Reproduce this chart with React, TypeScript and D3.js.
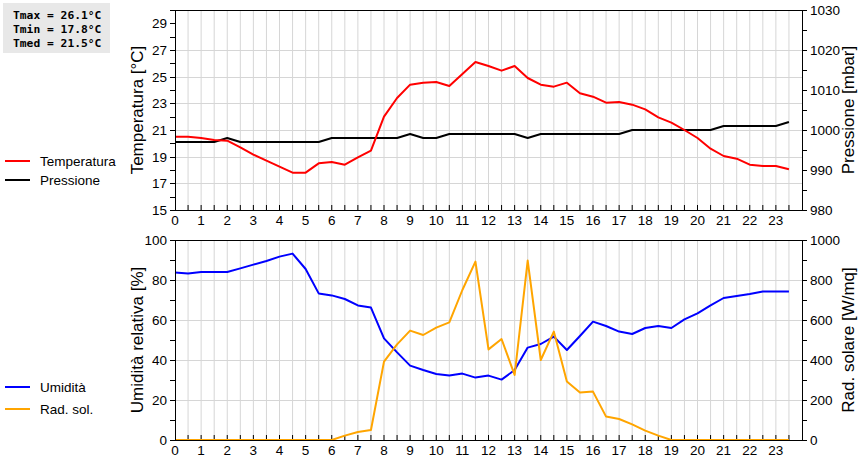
import { useEffect, useRef } from "react";
import * as d3 from "d3";

// half-hour samples, 0 .. 23.5
const hours = d3.range(0, 24, 0.5);

const temperatura = [
  20.5, 20.5, 20.4, 20.25, 20.2, 19.7, 19.15, 18.7, 18.25, 17.8, 17.8, 18.5,
  18.6, 18.4, 18.95, 19.45, 22.0, 23.4, 24.4, 24.55, 24.6, 24.3, 25.2, 26.1,
  25.8, 25.45, 25.8, 24.9, 24.4, 24.25, 24.55, 23.75, 23.5, 23.05, 23.1, 22.9,
  22.55, 21.95, 21.55, 21.0, 20.4, 19.6, 19.05, 18.85, 18.4, 18.3, 18.3, 18.05,
];

const pressione = [
  997, 997, 997, 997, 998, 997, 997, 997, 997, 997, 997, 997,
  998, 998, 998, 998, 998, 998, 999, 998, 998, 999, 999, 999,
  999, 999, 999, 998, 999, 999, 999, 999, 999, 999, 999, 1000,
  1000, 1000, 1000, 1000, 1000, 1000, 1001, 1001, 1001, 1001, 1001, 1002,
];

const umidita = [
  83.8, 83.2, 84, 84, 84, 85.8, 87.7, 89.5, 91.7, 93.2, 85.5, 73.3,
  72.3, 70.5, 67.3, 66.2, 50.8, 43.8, 37.2, 35, 33, 32.2, 33.2, 31.2,
  32.2, 30.2, 35, 46.2, 48, 51.7, 45, 52, 59.2, 57, 54.2, 53,
  56, 57, 56, 60.3, 63.3, 67.3, 71, 72, 73, 74.2, 74.2, 74.2,
];

const radSolare = [
  0, 0, 0, 0, 0, 0, 0, 0, 0, 0, 0, 0,
  0, 22, 40, 50, 392, 478, 547, 525, 562, 588, 750, 892,
  453, 505, 325, 897, 400, 542, 292, 237, 242, 117, 105, 78,
  47, 22, 0, 0, 0, 0, 0, 0, 0, 0, 0, 0,
];

const statsLines = ["Tmax = 26.1°C", "Tmin = 17.8°C", "Tmed = 21.5°C"];
const hourLabels = d3.range(0, 24);

const FONT = "'Liberation Sans', Arial, sans-serif";

export default function App() {
  const svgRef = useRef<SVGSVGElement | null>(null);

  useEffect(() => {
    document.body.style.margin = "0";
    if (!svgRef.current) return;
    const svg = d3.select(svgRef.current);
    svg.selectAll("*").remove();

    const width = 860;
    const height = 460;
    svg.attr("width", width).attr("height", height);
    svg.append("rect").attr("width", width).attr("height", height).attr("fill", "white");

    const x = d3.scaleLinear().domain([0, 24]).range([175, 802]);

    const drawPanel = (opts: {
      top: number;
      bottom: number;
      left: d3.ScaleLinear<number, number>;
      right: d3.ScaleLinear<number, number>;
      leftTicks: number[];
      leftMinor: number[];
      leftGrid: number[];
      rightTicks: number[];
      rightMinor: number[];
      leftTitle: string;
      rightTitle: string;
      series: { values: number[]; scale: d3.ScaleLinear<number, number>; color: string }[];
      legend: { label: string; color: string; y: number }[];
    }) => {
      const g = svg.append("g");
      const [x0, x1] = x.range();

      // grid
      g.selectAll("line.vg")
        .data(d3.range(0.5, 24, 0.5))
        .enter()
        .append("line")
        .attr("x1", (d) => x(d))
        .attr("x2", (d) => x(d))
        .attr("y1", opts.top)
        .attr("y2", opts.bottom)
        .attr("stroke", "#d6d6d6")
        .attr("stroke-width", 1);
      g.selectAll("line.hg")
        .data(opts.leftGrid)
        .enter()
        .append("line")
        .attr("x1", x0)
        .attr("x2", x1)
        .attr("y1", (d) => Math.round(opts.left(d)) + 0.5)
        .attr("y2", (d) => Math.round(opts.left(d)) + 0.5)
        .attr("stroke", "#d6d6d6")
        .attr("stroke-width", 1);

      // x ticks (inside, every half hour)
      g.selectAll("line.xt")
        .data(d3.range(0.5, 24, 0.5))
        .enter()
        .append("line")
        .attr("x1", (d) => x(d))
        .attr("x2", (d) => x(d))
        .attr("y1", opts.bottom)
        .attr("y2", opts.bottom - 5)
        .attr("stroke", "black");

      g.selectAll("text.xl")
        .data(hourLabels)
        .enter()
        .append("text")
        .attr("x", (d) => x(d))
        .attr("y", opts.bottom + 15)
        .attr("text-anchor", "middle")
        .style("font-family", FONT)
        .style("font-size", "13.5px")
        .text((d) => d);

      // left ticks
      const allLeft = [...opts.leftTicks, ...opts.leftMinor];
      g.selectAll("line.lt")
        .data(allLeft)
        .enter()
        .append("line")
        .attr("x1", x0 - 5)
        .attr("x2", x0)
        .attr("y1", (d) => Math.round(opts.left(d)) + 0.5)
        .attr("y2", (d) => Math.round(opts.left(d)) + 0.5)
        .attr("stroke", "black");
      g.selectAll("text.ll")
        .data(opts.leftTicks)
        .enter()
        .append("text")
        .attr("x", x0 - 8)
        .attr("y", (d) => opts.left(d) + 5)
        .attr("text-anchor", "end")
        .style("font-family", FONT)
        .style("font-size", "13.5px")
        .text((d) => d);

      const allRight = [...opts.rightTicks, ...opts.rightMinor];
      g.selectAll("line.rt")
        .data(allRight)
        .enter()
        .append("line")
        .attr("x1", x1)
        .attr("x2", x1 + 5)
        .attr("y1", (d) => Math.round(opts.right(d)) + 0.5)
        .attr("y2", (d) => Math.round(opts.right(d)) + 0.5)
        .attr("stroke", "black");
      g.selectAll("text.rl")
        .data(opts.rightTicks)
        .enter()
        .append("text")
        .attr("x", x1 + 8)
        .attr("y", (d) => opts.right(d) + 5)
        .attr("text-anchor", "start")
        .style("font-family", FONT)
        .style("font-size", "13.5px")
        .text((d) => d);

      const midY = (opts.top + opts.bottom) / 2;
      g.append("text")
        .attr("transform", `translate(143, ${midY}) rotate(-90)`)
        .attr("text-anchor", "middle")
        .style("font-family", FONT)
        .style("font-size", "17px")
        .text(opts.leftTitle);
      g.append("text")
        .attr("transform", `translate(854, ${midY}) rotate(-90)`)
        .attr("text-anchor", "middle")
        .style("font-family", FONT)
        .style("font-size", "17px")
        .text(opts.rightTitle);

      // series
      opts.series.forEach((s) => {
        const line = d3
          .line<number>()
          .x((_, i) => x(hours[i]))
          .y((d) => s.scale(d));
        g.append("path")
          .datum(s.values)
          .attr("d", line)
          .attr("fill", "none")
          .attr("stroke", s.color)
          .attr("stroke-width", 2)
          .attr("stroke-linejoin", "round");
      });

      // frame
      g.append("rect")
        .attr("x", x0 + 0.5)
        .attr("y", opts.top + 0.5)
        .attr("width", x1 - x0)
        .attr("height", opts.bottom - opts.top)
        .attr("fill", "none")
        .attr("stroke", "black");

      // legend
      opts.legend.forEach((l) => {
        g.append("line")
          .attr("x1", 5)
          .attr("x2", 30)
          .attr("y1", l.y)
          .attr("y2", l.y)
          .attr("stroke", l.color)
          .attr("stroke-width", 2);
        g.append("text")
          .attr("x", 40)
          .attr("y", l.y + 5)
          .style("font-family", FONT)
          .style("font-size", "13.5px")
          .text(l.label);
      });
    };

    // top panel
    const yTemp = d3.scaleLinear().domain([15, 30]).range([210, 10]);
    const yPress = d3.scaleLinear().domain([980, 1030]).range([210, 10]);
    drawPanel({
      top: 10,
      bottom: 210,
      left: yTemp,
      right: yPress,
      leftTicks: d3.range(15, 30, 2),
      leftMinor: d3.range(16, 31, 2),
      leftGrid: d3.range(17, 28, 2),
      rightTicks: d3.range(980, 1031, 10),
      rightMinor: d3.range(985, 1030, 10),
      leftTitle: "Temperatura [°C]",
      rightTitle: "Pressione [mbar]",
      series: [
        { values: pressione, scale: yPress, color: "#000000" },
        { values: temperatura, scale: yTemp, color: "#ff0000" },
      ],
      legend: [
        { label: "Temperatura", color: "#ff0000", y: 161 },
        { label: "Pressione", color: "#000000", y: 180 },
      ],
    });

    // bottom panel
    const yHum = d3.scaleLinear().domain([0, 100]).range([440, 240]);
    const yRad = d3.scaleLinear().domain([0, 1000]).range([440, 240]);
    drawPanel({
      top: 240,
      bottom: 440,
      left: yHum,
      right: yRad,
      leftTicks: d3.range(0, 101, 20),
      leftMinor: d3.range(10, 100, 20),
      leftGrid: d3.range(20, 100, 20),
      rightTicks: d3.range(0, 1001, 200),
      rightMinor: d3.range(100, 1000, 200),
      leftTitle: "Umidità relativa [%]",
      rightTitle: "Rad. solare [W/mq]",
      series: [
        { values: umidita, scale: yHum, color: "#0000ff" },
        { values: radSolare, scale: yRad, color: "#ffa500" },
      ],
      legend: [
        { label: "Umidità", color: "#0000ff", y: 387 },
        { label: "Rad. sol.", color: "#ffa500", y: 409 },
      ],
    });

    // stats box
    svg.append("rect")
      .attr("x", 3)
      .attr("y", 3)
      .attr("width", 107)
      .attr("height", 50)
      .attr("fill", "#e8e8e8");
    svg.selectAll("text.stat")
      .data(statsLines)
      .enter()
      .append("text")
      .attr("x", 13)
      .attr("y", (_, i) => 19 + i * 14)
      .style("font-family", "'DejaVu Sans Mono', monospace")
      .style("font-size", "11.3px")
      .style("font-weight", "bold")
      .text((d) => d);
  }, []);

  return <svg ref={svgRef} style={{ display: "block" }}></svg>;
}
